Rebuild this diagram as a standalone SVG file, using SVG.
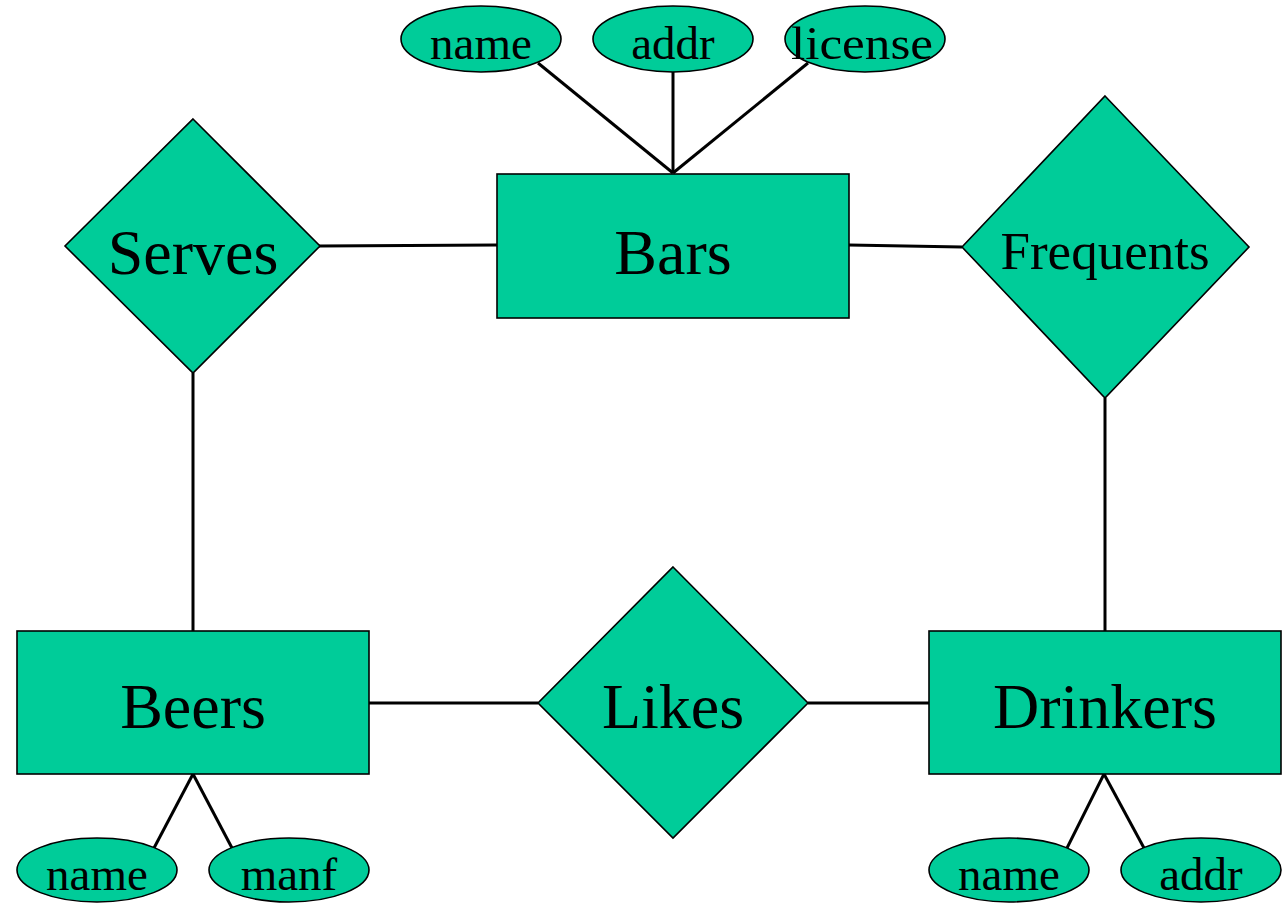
<svg xmlns="http://www.w3.org/2000/svg" width="1288" height="908" viewBox="0 0 1288 908">
<style>
.shape{fill:#00CC99;stroke:#000;stroke-width:1.6}
.big{font-family:"Liberation Serif","Times New Roman",serif;font-size:64px;text-anchor:middle;fill:#000}
.mid{font-family:"Liberation Serif","Times New Roman",serif;font-size:53px;text-anchor:middle;fill:#000}
.small{font-family:"Liberation Serif","Times New Roman",serif;font-size:47px;text-anchor:middle;fill:#000}
.conn line{stroke:#000;stroke-width:3}
</style>
<rect width="1288" height="908" fill="#fff"/>
<g id="connectors" class="conn">
<line x1="538" y1="63" x2="673" y2="173"/>
<line x1="673" y1="72" x2="673" y2="173"/>
<line x1="808" y1="63" x2="673" y2="173"/>
<line x1="319" y1="246" x2="497" y2="245"/>
<line x1="849" y1="245" x2="962" y2="247"/>
<line x1="193" y1="373" x2="193" y2="631"/>
<line x1="1105" y1="398" x2="1105" y2="631"/>
<line x1="369" y1="703" x2="538" y2="703"/>
<line x1="808" y1="703" x2="929" y2="703"/>
<line x1="193" y1="774" x2="154" y2="848"/>
<line x1="193" y1="774" x2="232" y2="848"/>
<line x1="1104" y1="774" x2="1067" y2="848"/>
<line x1="1104" y1="774" x2="1144" y2="848"/>
</g>
<g id="bars"><rect class="shape" x="497" y="174" width="352" height="144"/><text class="big" x="673" y="274">Bars</text></g>
<g id="beers"><rect class="shape" x="17" y="631" width="352" height="143"/><text class="big" x="193" y="728">Beers</text></g>
<g id="drinkers"><rect class="shape" x="929" y="631" width="352" height="143"/><text class="big" x="1105" y="728">Drinkers</text></g>
<g id="serves"><polygon class="shape" points="193,119 320,246 193,373 65,246"/><text class="big" x="193" y="274">Serves</text></g>
<g id="frequents"><polygon class="shape" points="1105,96 1249,247 1105,398 962,247"/><text class="mid" x="1105" y="269">Frequents</text></g>
<g id="likes"><polygon class="shape" points="673,567 808,703 673,838 538,703"/><text class="big" x="673" y="728">Likes</text></g>
<g id="bars-name"><ellipse class="shape" cx="481" cy="39" rx="80" ry="33"/><text class="small" x="481" y="59">name</text></g>
<g id="bars-addr"><ellipse class="shape" cx="673" cy="39" rx="80" ry="33"/><text class="small" x="673" y="59">addr</text></g>
<g id="bars-license"><ellipse class="shape" cx="865" cy="39" rx="80" ry="33"/><text class="small" x="862" y="59" textLength="142" lengthAdjust="spacingAndGlyphs">license</text></g>
<g id="beers-name"><ellipse class="shape" cx="97" cy="870" rx="80" ry="32"/><text class="small" x="97" y="890">name</text></g>
<g id="beers-manf"><ellipse class="shape" cx="289" cy="870" rx="80" ry="32"/><text class="small" x="289" y="890">manf</text></g>
<g id="drinkers-name"><ellipse class="shape" cx="1009" cy="870" rx="80" ry="32"/><text class="small" x="1009" y="890">name</text></g>
<g id="drinkers-addr"><ellipse class="shape" cx="1201" cy="870" rx="80" ry="32"/><text class="small" x="1201" y="890">addr</text></g>
</svg>
